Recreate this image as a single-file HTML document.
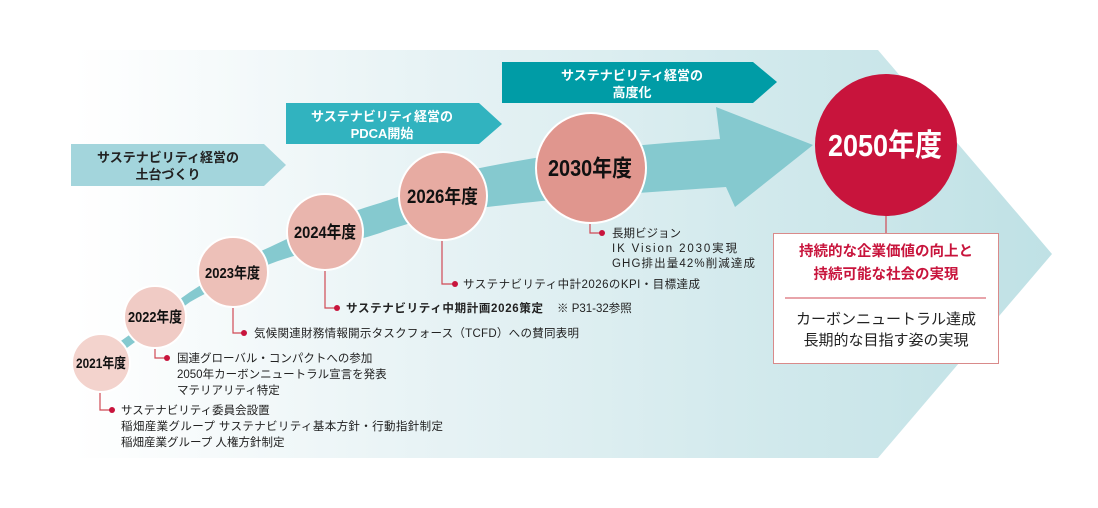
<!DOCTYPE html>
<html><head><meta charset="utf-8"><style>
html,body{margin:0;padding:0;background:#fff;}
svg{display:block;}
text{font-family:"Liberation Sans","Noto Sans CJK JP",sans-serif;}
.yr{font-family:"Liberation Sans Narrow","Liberation Sans","Noto Sans CJK JP",sans-serif;font-weight:bold;fill:#111;}
.t{font-size:11.5px;fill:#222;}
</style></head><body>
<svg width="1098" height="508" viewBox="0 0 1098 508" xmlns="http://www.w3.org/2000/svg">
<defs>
<linearGradient id="bg" x1="0" y1="0" x2="1" y2="0">
<stop offset="0" stop-color="#ffffff"/>
<stop offset="0.35" stop-color="#e8f3f5"/>
<stop offset="1" stop-color="#bfe1e5"/>
</linearGradient>
</defs>
<polygon points="74,50 878,50 1052,254 878,458 74,458" fill="url(#bg)"/>
<!-- big curved arrow band -->
<path d="M118,343 L190,292 C215,276 240,260 270,247 C310,228 340,215 380,203 C420,190 450,176 480,168 C560,152 620,146 720,139 L716,107 L813,145 L735,207 L726,187 C620,194 560,198 480,208 C440,215 410,222 380,233 C340,246 300,252 270,264 C240,276 215,288 190,302 L124,350 Z" fill="#85c9cf"/>
<!-- label arrows -->
<polygon points="71,144 264,144 286,165 264,186 71,186" fill="#a3d5dc"/>
<text x="168" y="162" font-size="13" font-weight="bold" fill="#222" text-anchor="middle">サステナビリティ経営の</text>
<text x="168" y="179" font-size="13" font-weight="bold" fill="#222" text-anchor="middle">土台づくり</text>
<polygon points="286,103 479,103 502,124 479,144 286,144" fill="#31b3bf"/>
<text x="382" y="121" font-size="13" font-weight="bold" fill="#fff" text-anchor="middle">サステナビリティ経営の</text>
<text x="382" y="138" font-size="13" font-weight="bold" fill="#fff" text-anchor="middle">PDCA開始</text>
<polygon points="502,62 753,62 777,82 753,103 502,103" fill="#009ca6"/>
<text x="632" y="80" font-size="13" font-weight="bold" fill="#fff" text-anchor="middle">サステナビリティ経営の</text>
<text x="632" y="97" font-size="13" font-weight="bold" fill="#fff" text-anchor="middle">高度化</text>
<!-- connectors -->
<g stroke="#d04a55" stroke-width="1.2" fill="none">
<polyline points="100,392 100,410 111,410"/>
<polyline points="155,348 155,358 166,358"/>
<polyline points="233,306 233,333 244,333"/>
<polyline points="325,268 325,308 337,308"/>
<polyline points="442,238 442,284 455,284"/>
<polyline points="590,222 590,233 602,233"/>
<line x1="886" y1="215" x2="886" y2="233"/>
</g>
<g fill="#c8143c">
<circle cx="112" cy="410" r="3"/><circle cx="167" cy="358" r="3"/><circle cx="244" cy="333" r="3"/>
<circle cx="337" cy="308" r="3"/><circle cx="455" cy="284" r="3"/><circle cx="602" cy="233" r="3"/>
</g>
<!-- circles -->
<g stroke="#fff" stroke-width="2">
<circle cx="101" cy="363" r="29" fill="#f3d3cd"/>
<circle cx="155" cy="317" r="31" fill="#f0cbc5"/>
<circle cx="233" cy="272" r="35" fill="#edc0b8"/>
<circle cx="325" cy="232" r="38" fill="#e9b5ad"/>
<circle cx="443" cy="196" r="44" fill="#e7aba2"/>
<circle cx="591" cy="168" r="55" fill="#e0968e"/>
<circle cx="886" cy="145" r="71" fill="#c8143c" stroke="none"/>
</g>
<text class="yr" x="76" y="368" font-size="14" textLength="50" lengthAdjust="spacingAndGlyphs">2021年度</text>
<text class="yr" x="128" y="322" font-size="15" textLength="54" lengthAdjust="spacingAndGlyphs">2022年度</text>
<text class="yr" x="205" y="278" font-size="15" textLength="55" lengthAdjust="spacingAndGlyphs">2023年度</text>
<text class="yr" x="294" y="238" font-size="17" textLength="62" lengthAdjust="spacingAndGlyphs">2024年度</text>
<text class="yr" x="407" y="203" font-size="19" textLength="71" lengthAdjust="spacingAndGlyphs">2026年度</text>
<text class="yr" x="548" y="176" font-size="23" textLength="84" lengthAdjust="spacingAndGlyphs">2030年度</text>
<text class="yr" x="828" y="156" font-size="31" textLength="114" lengthAdjust="spacingAndGlyphs" style="fill:#fff">2050年度</text>
<!-- annotations -->
<text class="t" x="121" y="414">サステナビリティ委員会設置</text>
<text class="t" x="121" y="430" textLength="322" lengthAdjust="spacing">稲畑産業グループ サステナビリティ基本方針・行動指針制定</text>
<text class="t" x="121" y="446">稲畑産業グループ 人権方針制定</text>
<text class="t" x="177" y="362">国連グローバル・コンパクトへの参加</text>
<text class="t" x="177" y="378">2050年カーボンニュートラル宣言を発表</text>
<text class="t" x="177" y="394">マテリアリティ特定</text>
<text class="t" x="254" y="337" textLength="325" lengthAdjust="spacing">気候関連財務情報開示タスクフォース（TCFD）への賛同表明</text>
<text class="t" x="346" y="312" font-weight="bold" textLength="197" lengthAdjust="spacing">サステナビリティ中期計画2026策定</text>
<text class="t" x="557" y="312">※ P31-32参照</text>
<text class="t" x="463" y="288" textLength="237" lengthAdjust="spacing">サステナビリティ中計2026のKPI・目標達成</text>
<text class="t" x="612" y="237">長期ビジョン</text>
<text class="t" x="612" y="252" textLength="125" lengthAdjust="spacing">IK Vision 2030実現</text>
<text class="t" x="612" y="267" textLength="143" lengthAdjust="spacing">GHG排出量42%削減達成</text>
<!-- 2050 box -->
<rect x="773.5" y="233.5" width="225" height="130" fill="#fff" stroke="#d98a8a" stroke-width="1"/>
<text x="886" y="256" font-size="14.5" font-weight="bold" fill="#c8143c" text-anchor="middle">持続的な企業価値の向上と</text>
<text x="886" y="279" font-size="14.5" font-weight="bold" fill="#c8143c" text-anchor="middle">持続可能な社会の実現</text>
<line x1="785" y1="298" x2="986" y2="298" stroke="#d04a55" stroke-width="1"/>
<text x="886" y="324" font-size="15" fill="#222" text-anchor="middle">カーボンニュートラル達成</text>
<text x="886" y="345" font-size="15" fill="#222" text-anchor="middle">長期的な目指す姿の実現</text>
</svg>
</body></html>
